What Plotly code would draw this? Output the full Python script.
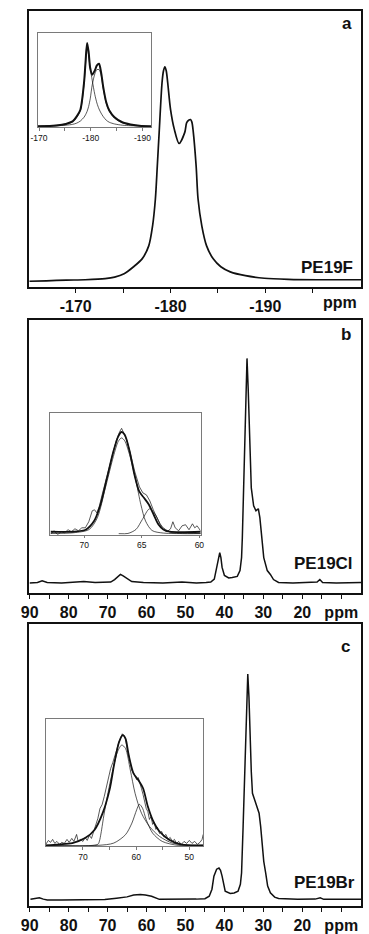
import plotly.graph_objects as go

W, H = 369, 934

# ---------------- Panel a (19F) ----------------
A_PPM = [-165.1, -166.9, -169.0, -171.0, -173.1, -174.1, -175.1, -176.1, -177.0, -177.7,
         -178.1, -178.4, -178.6, -178.8, -179.1, -179.25, -179.4, -179.55, -179.7, -180.0,
         -180.4, -180.9, -181.5, -181.7, -181.95, -182.1, -182.25, -182.4, -182.7, -182.9,
         -183.3, -183.8, -184.5, -185.3, -186.3, -187.9, -189.9, -192.4, -195.5, -198.1, -200.1]
A_INT = [-0.7, -0.5, -0.2, 0.0, 0.5, 1.2, 2.8, 6.1, 9.8, 15.9,
         25.2, 37.9, 53.3, 69.2, 92.5, 98.0, 100.0, 98.0, 92.5, 79.9,
         70.6, 64.0, 69.2, 73.8, 75.0, 75.2, 74.0, 69.2, 53.3, 37.9,
         25.2, 15.9, 9.8, 6.1, 3.7, 1.9, 0.7, 0.2, 0.0, 0.0, 0.0]

AI_PPM = [-169.8, -173.4, -175.2, -176.5, -177.3, -178.0, -178.7, -179.0, -179.3, -179.6,
          -179.9, -180.3, -180.8, -181.2, -181.6, -182.0, -182.4, -183.0, -183.6, -184.6,
          -186.1, -187.7, -189.8, -191.7]
AI_FIT = [0.0, 1.2, 3.0, 6.0, 12.0, 20.0, 52.0, 77.0, 100.0, 89.0,
          70.0, 62.0, 67.0, 73.0, 75.0, 65.0, 48.0, 29.0, 19.0, 11.0,
          5.0, 2.4, 0.6, 0.0]
AI_C1 = [0.8, 1.5, 3.0, 5.5, 11.0, 19.0, 50.0, 75.0, 97.0, 85.0,
         70.0, 55.0, 38.0, 28.0, 21.0, 16.0, 12.0, 7.5, 5.0, 3.0,
         1.5, 0.9, 0.5, 0.3]
AI_C2 = [0.3, 0.8, 1.5, 2.5, 4.0, 6.5, 11.0, 14.0, 18.0, 24.0,
         33.0, 50.0, 63.0, 68.0, 68.0, 62.0, 46.0, 28.0, 18.0, 10.0,
         4.5, 2.0, 0.8, 0.4]

# ---------------- Panel b (13C, PE19Cl) ----------------
B_PPM = [90.0, 88.0, 86.8, 85.5, 81.8, 78.1, 76.1, 73.2, 70.7, 69.2,
         68.2, 67.2, 66.7, 66.0, 65.0, 63.8, 60.8, 55.8, 50.9, 47.2,
         44.7, 43.5, 42.6, 42.0, 41.5, 41.2, 40.9, 40.6, 40.0, 38.9,
         38.0, 36.7, 36.0, 35.6, 35.4, 35.2, 34.8, 34.5, 34.2, 33.9,
         33.5, 33.1, 32.5, 31.9, 31.3, 30.9, 30.4, 29.9, 29.0, 28.2,
         27.4, 26.1, 22.4, 18.7, 16.2, 15.5, 14.8, 11.3, 4.9]
B_INT = [-0.2, 0.0, 0.7, 0.0, -0.2, 0.0, 0.4, 0.0, 0.0, 0.2,
         1.3, 2.9, 3.6, 2.9, 1.6, 0.4, 0.0, -0.2, 0.2, -0.2,
         0.0, 0.2, 1.5, 6.7, 12.0, 13.3, 11.1, 6.7, 3.1, 2.0,
         2.2, 2.7, 5.3, 11.1, 20.0, 34.7, 64.4, 86.7, 100.0, 86.7,
         64.4, 42.2, 34.2, 32.0, 32.9, 28.9, 20.0, 11.1, 5.3, 3.6,
         1.3, 0.0, -0.2, 0.0, 0.2, 1.3, 0.0, -0.2, 0.0]

BI_FIT_PPM = [72.9, 70.95, 69.83, 69.14, 68.58, 68.02, 67.46, 67.04, 66.76, 66.48,
              66.06, 65.64, 65.23, 64.81, 64.39, 63.97, 63.55, 63.13, 62.57, 59.84]
BI_FIT = [2.1, 2.1, 4.5, 13.2, 30.5, 58.3, 86.1, 101.7, 106.2, 103.4,
          86.4, 61.8, 44.4, 37.5, 30.5, 20.1, 9.7, 4.5, 2.1, 2.1]
BI_C1_PPM = [72.9, 70.95, 69.56, 68.86, 68.16, 67.46, 67.04, 66.76, 66.48, 66.06,
             65.5, 65.08, 64.67, 64.11, 63.13, 59.84]
BI_C1 = [0.3, 1.0, 4.5, 16.6, 47.8, 80.8, 96.4, 100.0, 97.0, 82.5,
         54.8, 30.5, 13.2, 3.4, 0.7, 0.3]
BI_C2_PPM = [67.0, 66.2, 65.5, 64.95, 64.33, 63.83, 63.27, 62.57, 61.74, 59.84]
BI_C2 = [0.1, 0.3, 4.5, 14.9, 26.0, 20.1, 8.0, 1.8, 0.3, 0.1]
BI_DATA_PPM = [72.9, 72.6, 72.3, 72.0, 71.7, 71.4, 71.1, 70.8, 70.5, 70.2,
               69.9, 69.6, 69.3, 69.1, 68.9, 68.7, 68.4, 68.0, 67.6, 67.2,
               66.9, 66.75, 66.6, 66.3, 66.0, 65.6, 65.2, 64.9, 64.6, 64.3,
               64.0, 63.7, 63.4, 63.1, 62.8, 62.5, 62.3, 62.1, 61.8, 61.5,
               61.2, 60.9, 60.6, 60.4, 60.2, 59.9]
BI_DATA = [0.0, 3.1, -1.0, 2.1, 1.0, 4.2, 2.1, 5.2, 3.1, 6.2,
           6.2, 12.5, 23.9, 25.0, 21.8, 28.1, 42.6, 61.4, 81.1, 97.8,
           107.0, 110.0, 106.0, 97.8, 84.2, 64.5, 48.9, 42.6, 40.6, 34.3,
           25.0, 16.6, 9.4, 4.2, 2.1, 5.2, 12.5, 6.2, 3.1, 8.3,
           9.4, 4.2, 10.4, 6.2, 8.3, 3.1]

# ---------------- Panel c (13C, PE19Br) ----------------
C_PPM = [89.8, 88.8, 87.5, 86.5, 85.5, 81.8, 78.9, 74.4, 70.7, 67.7,
         65.0, 63.3, 61.6, 60.3, 58.7, 56.7, 52.1, 47.2, 45.0, 43.9,
         43.2, 42.7, 42.0, 41.4, 41.0, 40.6, 39.8, 38.5, 37.5, 36.5,
         35.9, 35.6, 35.2, 34.8, 34.4, 34.0, 33.7, 33.4, 33.1, 32.8,
         31.9, 31.1, 30.7, 30.3, 29.9, 29.4, 28.9, 28.2, 27.1, 26.1,
         21.2, 16.7, 15.4, 14.5, 10.0, 4.9]
C_INT = [-0.1, 0.2, 0.6, 0.0, -0.4, -0.4, -0.4, -0.4, -0.2, 0.4,
         1.0, 1.8, 2.1, 1.8, 1.3, -0.1, -0.2, 0.0, 0.2, 1.3,
         4.4, 10.2, 13.3, 13.8, 12.8, 10.2, 3.5, 2.5, 2.7, 3.5,
         6.6, 11.6, 32.3, 55.9, 81.0, 100.0, 89.8, 70.8, 56.6, 47.0,
         42.6, 38.2, 32.3, 23.5, 16.8, 11.6, 5.8, 2.8, 0.9, 0.3,
         -0.1, 0.0, 0.6, -0.1, 0.0, -0.1]

CI_FIT_PPM = [77.0, 74.5, 72.0, 69.6, 67.8, 66.3, 65.0, 64.1, 63.2, 62.5,
              62.0, 61.4, 60.5, 59.6, 58.7, 57.8, 56.9, 55.6, 53.8, 51.4, 47.4]
CI_FIT = [0.0, 0.9, 2.1, 6.6, 14.2, 29.2, 50.3, 74.3, 94.0, 100.0,
          96.9, 81.9, 65.3, 59.3, 51.8, 35.2, 23.2, 12.6, 5.1, 0.6, 0.0]
CI_C1_PPM = [77.0, 67.2, 66.9, 66.6, 66.0, 64.8, 63.5, 62.7, 62.0, 61.1,
             60.2, 59.0, 57.5, 55.6, 53.2, 50.2, 47.4]
CI_C1 = [0.0, 1.0, 4.0, 11.1, 29.2, 59.3, 84.9, 91.0, 87.9, 68.4,
         47.2, 29.2, 17.2, 8.1, 2.1, 0.3, 0.0]
CI_C2_PPM = [77.0, 67.2, 64.2, 62.0, 60.8, 59.9, 59.4, 58.8, 58.1, 56.9, 55.1, 52.1, 47.4]
CI_C2 = [0.0, 0.0, 2.1, 9.7, 20.2, 32.3, 37.3, 33.7, 23.2, 11.1, 3.6, 0.0, 0.0]
CI_DATA_PPM = [77.0, 76.5, 76.1, 75.7, 75.3, 74.9, 74.4, 74.0, 73.5, 73.0,
               72.6, 72.1, 71.7, 71.2, 70.9, 70.5, 70.0, 69.6, 69.2, 68.8,
               68.4, 68.0, 67.6, 67.2, 66.8, 66.4, 66.0, 65.6, 65.2, 64.8,
               64.4, 64.0, 63.6, 63.2, 62.9, 62.6, 62.3, 62.0, 61.7, 61.4,
               61.1, 60.8, 60.5, 60.2, 59.9, 59.6, 59.3, 59.0, 58.7, 58.4,
               58.1, 57.8, 57.5, 57.2, 56.9, 56.6, 56.3, 56.0, 55.6, 55.2,
               54.8, 54.4, 54.0, 53.6, 53.2, 52.8, 52.4, 52.0, 51.5, 51.0,
               50.5, 50.0, 49.5, 49.0, 48.5, 48.0, 47.6, 47.4]
CI_DATA = [0.9, 4.5, 2.7, 5.4, 1.8, 3.6, 0.9, 2.7, 1.8, 5.4,
           2.7, 6.3, 3.6, 9.9, 3.6, 5.4, 3.6, 7.2, 4.5, 9.0,
           6.3, 12.6, 17.2, 24.4, 33.4, 37.0, 44.3, 53.3, 62.3, 69.6,
           75.0, 80.4, 87.6, 94.0, 97.6, 101.2, 99.4, 96.7, 87.6, 80.4,
           73.2, 67.8, 65.9, 63.2, 59.6, 61.4, 55.1, 51.5, 46.1, 38.8,
           33.4, 30.7, 23.5, 26.2, 19.0, 20.8, 14.5, 16.3, 10.8, 12.6,
           8.1, 9.9, 5.4, 7.2, 3.6, 5.4, 1.8, 3.6, 0.9, 3.6,
           1.8, 4.5, 1.8, 3.6, 0.9, 2.7, 5.4, 9.9]

A_TICKS = [-170, -175, -180, -185, -190, -195]
A_TICKTEXT = ["-170", "", "-180", "", "-190", ""]
BC_TICKS = [90, 85, 80, 75, 70, 65, 60, 55, 50, 45, 40, 35, 30, 25, 20, 15, 10]
BC_TICKTEXT = ["90", "", "80", "", "70", "", "60", "", "50", "", "40", "", "30", "", "20", "", "ppm"]
AI_TICKS = [-170, -175, -180, -185, -190]
AI_TICKTEXT = ["-170", "", "-180", "", "-190"]
BI_TICKS = [70, 65, 60]
CI_TICKS = [70, 65, 60, 55, 50]
CI_TICKTEXT = ["70", "", "60", "", "50"]

FONT = "Liberation Sans, Arial, sans-serif"


def dx(a, b):
    return [a / W, b / W]


def dy(top, bottom):
    return [1 - bottom / H, 1 - top / H]


fig = go.Figure()

BLACK = "#111111"
GRAY = "#7a7a7a"


def add(x, y, xa, ya, width, color=BLACK, shape="linear"):
    fig.add_trace(go.Scatter(x=x, y=y, mode="lines", xaxis=xa, yaxis=ya,
                             line=dict(color=color, width=width, shape=shape,
                                       smoothing=0.8 if shape == "spline" else None),
                             hoverinfo="skip", showlegend=False))


# main spectra
add(A_PPM, A_INT, "x", "y", 1.7, shape="spline")
add(B_PPM, B_INT, "x3", "y3", 1.5)
add(C_PPM, C_INT, "x5", "y5", 1.5)
# inset a
add(AI_PPM, AI_C1, "x2", "y2", 0.7, shape="spline")
add(AI_PPM, AI_C2, "x2", "y2", 0.7, shape="spline")
add(AI_PPM, AI_FIT, "x2", "y2", 2.0, shape="spline")
# inset b
add(BI_DATA_PPM, BI_DATA, "x4", "y4", 0.7)
add(BI_C1_PPM, BI_C1, "x4", "y4", 0.7, shape="spline")
add(BI_C2_PPM, BI_C2, "x4", "y4", 0.7, shape="spline")
add(BI_FIT_PPM, BI_FIT, "x4", "y4", 1.8, shape="spline")
# inset c
add(CI_DATA_PPM, CI_DATA, "x6", "y6", 0.7)
add(CI_C1_PPM, CI_C1, "x6", "y6", 0.7, shape="spline")
add(CI_C2_PPM, CI_C2, "x6", "y6", 0.7, shape="spline")
add(CI_FIT_PPM, CI_FIT, "x6", "y6", 1.8, shape="spline")

main_tickfont = dict(family=FONT, size=16, color=BLACK, weight="bold")
inset_tickfont = dict(family=FONT, size=8.5, color="#111111")


def main_x(domain, rng, tv, tt, anchor):
    return dict(domain=domain, range=rng, anchor=anchor, showgrid=False, zeroline=False,
                showline=True, linecolor=BLACK, linewidth=1.5, mirror=True,
                ticks="outside", ticklen=4, tickwidth=1.2, tickcolor=BLACK,
                tickmode="array", tickvals=tv, ticktext=tt, tickfont=main_tickfont)


def main_y(domain, rng, anchor):
    return dict(domain=domain, range=rng, anchor=anchor, showgrid=False, zeroline=False,
                showline=True, linecolor=BLACK, linewidth=1.5, mirror=True,
                ticks="", showticklabels=False)


def inset_x(domain, rng, tv, tt, anchor):
    return dict(domain=domain, range=rng, anchor=anchor, showgrid=False, zeroline=False,
                showline=True, linecolor=GRAY, linewidth=1, mirror=True,
                ticks="outside", ticklen=2.5, tickwidth=0.8, tickcolor=GRAY,
                tickmode="array", tickvals=tv, ticktext=tt, tickfont=inset_tickfont)


def inset_y(domain, rng, anchor):
    return dict(domain=domain, range=rng, anchor=anchor, showgrid=False, zeroline=False,
                showline=True, linecolor=GRAY, linewidth=1, mirror=True,
                ticks="", showticklabels=False)


fig.update_layout(
    width=W, height=H, margin=dict(l=0, r=0, t=0, b=0),
    paper_bgcolor="white", plot_bgcolor="white", showlegend=False,
    xaxis=main_x(dx(22, 365), [-165.1, -200.1], A_TICKS, A_TICKTEXT, "y"),
    yaxis=main_y(dy(11, 288), [-3.3, 126.2], "x"),
    xaxis2=inset_x(dx(31, 148), [-169.8, -191.7], AI_TICKS, AI_TICKTEXT, "y2"),
    yaxis2=inset_y(dy(33, 128), [-1.2, 112.0], "x2"),
    xaxis3=main_x(dx(22, 365), [90.1, 4.9], BC_TICKS, BC_TICKTEXT, "y3"),
    yaxis3=main_y(dy(321, 596), [-4.9, 117.3], "x3"),
    xaxis4=inset_x(dx(43, 199), [73.0, 59.9], BI_TICKS, ["70", "65", "60"], "y4"),
    yaxis4=inset_y(dy(415, 537), [-1.0, 125.8], "x4"),
    xaxis5=main_x(dx(22, 365), [90.1, 4.9], BC_TICKS, BC_TICKTEXT, "y5"),
    yaxis5=main_y(dy(627, 910), [-3.1, 122.1], "x5"),
    xaxis6=inset_x(dx(39, 202), [77.0, 47.35], CI_TICKS, CI_TICKTEXT, "y6"),
    yaxis6=inset_y(dy(722, 850), [-0.9, 114.7], "x6"),
)


def label(text, xr, yc, size=17):
    fig.add_annotation(x=xr / W, y=1 - yc / H, xref="paper", yref="paper",
                       text=text, showarrow=False, xanchor="right", yanchor="middle",
                       borderpad=0,
                       font=dict(family=FONT, size=size, color=BLACK, weight="bold"))


label("a", 357, 23.5)
label("PE19F", 358, 268.6)
label("b", 356, 336)
label("PE19Cl", 358, 566)
label("c", 355, 649)
label("PE19Br", 360, 886)
fig.add_annotation(x=343 / W, y=1 - 304 / H, xref="paper", yref="paper", text="ppm",
                   showarrow=False, xanchor="center", yanchor="middle", borderpad=0,
                   font=dict(family=FONT, size=16, color=BLACK, weight="bold"))

fig.write_html("out.html")
